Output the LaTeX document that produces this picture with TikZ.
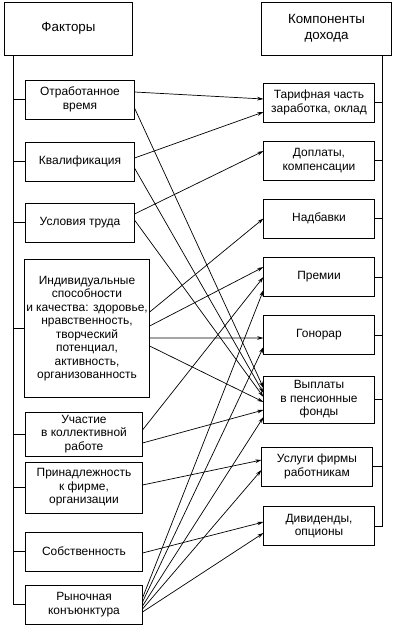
\documentclass[tikz,border=0pt]{standalone}
\usepackage{fontspec}
\setmainfont{Liberation Sans}
\usetikzlibrary{arrows.meta,calc}

\begin{document}
\begin{tikzpicture}[x=0.025cm,y=-0.025cm,
  box/.style={draw,line width=0.7pt,align=center,inner sep=1pt,
    font=\fontsize{8.5}{9.6}\selectfont},
  headbox/.style={box,font=\fontsize{9.5}{11.5}\selectfont,
    minimum height=1.325cm},
  arr/.style={-{Stealth[length=4.5pt,width=2.6pt]},line width=0.5pt},
  tie/.style={line width=0.6pt}]
\useasboundingbox (0,0) rectangle (400,633);
% headers
\node[headbox,minimum width=3.175cm] (fact) at (68.5,28.5) {Факторы};
\node[headbox,minimum width=3.225cm] (comp) at (326.5,28.5) {Компоненты\\дохода};
% factors
\node[box,minimum width=2.7cm,minimum height=0.975cm] (f1) at (80,99.5) {Отработанное\\время};
\node[box,minimum width=2.7cm,minimum height=0.975cm] (f2) at (80,161.5) {Квалификация};
\node[box,minimum width=2.7cm,minimum height=0.975cm] (f3) at (80,222.5) {Условия труда};
\node[box,minimum width=3.05cm,minimum height=3.425cm] (f4) at (87,328.5)
  {Индивидуальные\\способности\\и качества: здоровье,\\нравственность,\\творческий\\потенциал,\\активность,\\организованность};
\node[box,minimum width=2.9cm,minimum height=1.1cm] (f5) at (84,434) {Участие\\в коллективной\\работе};
\node[box,minimum width=2.9cm,minimum height=1.275cm] (f6) at (84,487.5) {Принадлежность\\к фирме,\\организации};
\node[box,minimum width=2.9cm,minimum height=0.975cm] (f7) at (84,551.5) {Собственность};
\node[box,minimum width=2.9cm,minimum height=0.975cm] (f8) at (84,604.5) {Рыночная\\конъюнктура};
% components
\node[box,minimum width=2.75cm,minimum height=0.975cm] (c1) at (319,102.5) {Тарифная часть\\заработка, оклад};
\node[box,minimum width=2.75cm,minimum height=0.975cm] (c2) at (319,160.5) {Доплаты,\\компенсации};
\node[box,minimum width=2.75cm,minimum height=0.975cm] (c3) at (319,218.5) {Надбавки};
\node[box,minimum width=2.75cm,minimum height=0.975cm] (c4) at (319,277) {Премии};
\node[box,minimum width=2.75cm,minimum height=0.975cm] (c5) at (319,335) {Гонорар};
\node[box,minimum width=2.75cm,minimum height=1.175cm] (c6) at (319,399.5) {Выплаты\\в пенсионные\\фонды};
\node[box,minimum width=2.75cm,minimum height=0.975cm] (c7) at (317,466.5) {Услуги фирмы\\работникам};
\node[box,minimum width=2.75cm,minimum height=0.975cm] (c8) at (319,526) {Дивиденды,\\опционы};
% trunks
\coordinate (ltop) at ($(fact.south west)+(9,0)$);
\coordinate (rtop) at ($(comp.south east)+(-9,0)$);
\draw[tie] (ltop) |- (f8.west);
\draw[tie] (rtop) |- (c8.east);
\foreach \n in {f1,f2,f3,f4,f5,f6,f7}
  \draw[tie] (\n.west) -- (\n.west -| ltop);
\foreach \n in {c1,c2,c3,c4,c5,c6,c7}
  \draw[tie] (\n.east) -- (\n.east -| rtop);
% links
\foreach \a/\p/\b/\q in {f1/-7.5/c1/-3.5, f1/8.5/c6/-11.5,
    f2/-3.5/c1/9.5, f2/6.5/c6/-6.5,
    f3/-8.5/c2/-9.5, f3/-2.5/c6/-2.5,
    f4/-16.5/c3/0, f4/-2.5/c4/-10, f4/9.5/c5/3, f4/17.5/c6/2.5,
    f5/-4/c4/0, f5/9/c6/10.5,
    f6/-2.5/c7/-6.5, f7/1.5/c8/-4,
    f8/-6.5/c4/13, f8/-2.5/c5/12, f8/1.5/c6/17.5, f8/4.5/c7/3.5, f8/7.5/c8/7}
  \draw[arr] ($(\a.east)+(0,\p)$) -- ($(\b.west)+(0,\q)$);
\end{tikzpicture}
\end{document}
